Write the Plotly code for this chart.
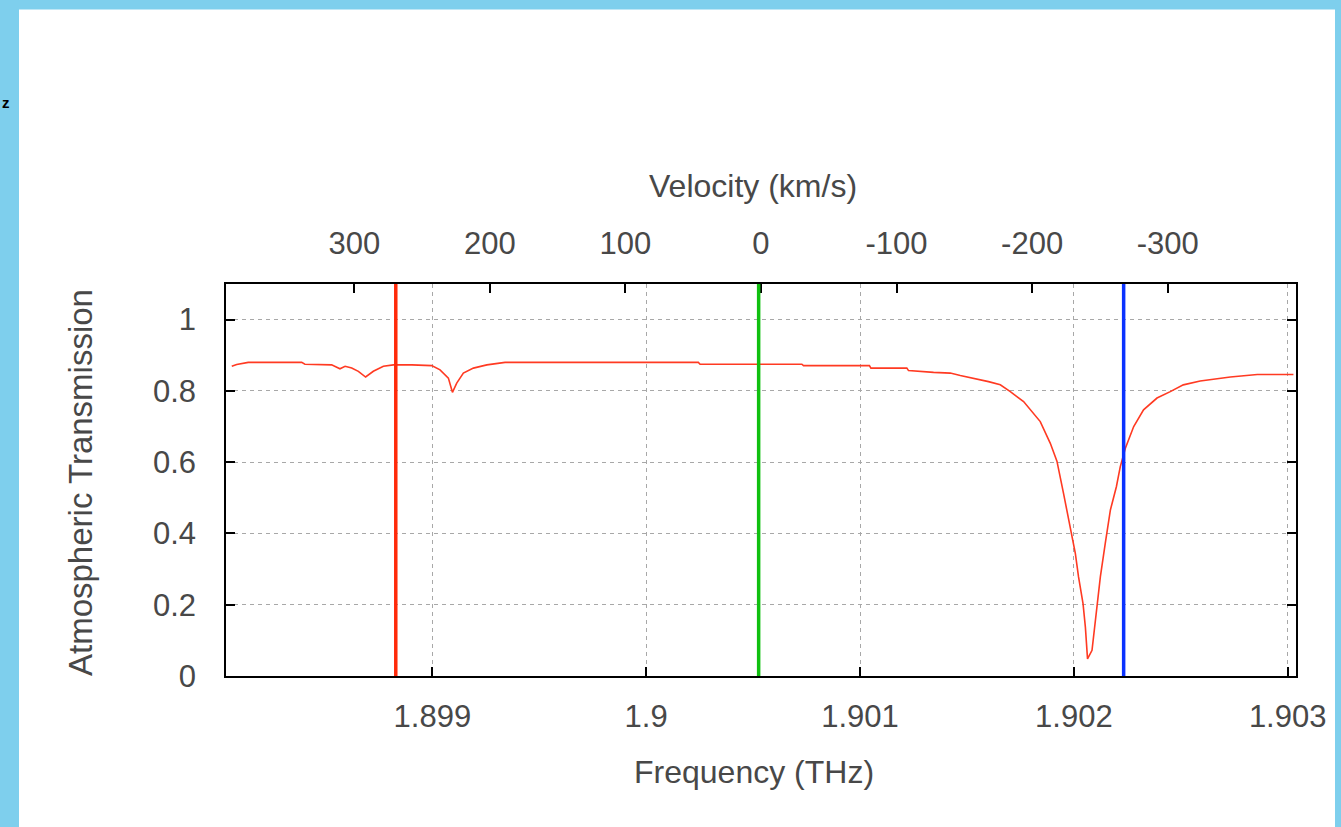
import plotly.graph_objects as go

# ---- data ----
freq_thz = [1.898062, 1.898085, 1.898139, 1.898389, 1.898404, 1.898529, 1.898568, 1.898592,
            1.898623, 1.898654, 1.898688, 1.898724, 1.898771, 1.898818, 1.898904, 1.898997,
            1.899036, 1.899075, 1.899094, 1.899114, 1.899145, 1.899192, 1.899255, 1.899301,
            1.899340, 1.900244, 1.900252, 1.900728, 1.900736, 1.901044, 1.901051, 1.901219,
            1.901227, 1.901344, 1.901422, 1.901469, 1.901531, 1.901601, 1.901656, 1.901703,
            1.901765, 1.901843, 1.901890, 1.901921, 1.901952, 1.901984, 1.902007, 1.902022,
            1.902043, 1.902054, 1.902064, 1.902085, 1.902105, 1.902124, 1.902147, 1.902171,
            1.902199, 1.902217, 1.902241, 1.902280, 1.902326, 1.902389, 1.902451, 1.902512,
            1.902591, 1.902732, 1.902858, 1.903027]
transmission = [0.869, 0.874, 0.880, 0.880, 0.875, 0.873, 0.862, 0.869,
                0.864, 0.855, 0.839, 0.855, 0.869, 0.873, 0.873, 0.871,
                0.859, 0.836, 0.796, 0.822, 0.850, 0.864, 0.873, 0.876,
                0.880, 0.880, 0.875, 0.875, 0.871, 0.871, 0.864, 0.864,
                0.857, 0.852, 0.850, 0.843, 0.836, 0.826, 0.817, 0.798,
                0.770, 0.714, 0.653, 0.603, 0.512, 0.419, 0.344, 0.278,
                0.203, 0.137, 0.048, 0.072, 0.175, 0.278, 0.372, 0.466,
                0.531, 0.587, 0.639, 0.700, 0.747, 0.780, 0.798, 0.817,
                0.828, 0.839, 0.846, 0.846]

marker_freqs = [1.898829, 1.900526, 1.902233]
marker_colors = ["#ff2a0a", "#10c010", "#0a32ff"]

freq_ticks = [1.899, 1.900, 1.901, 1.902, 1.903]
freq_ticktext = ["1.899", "1.9", "1.901", "1.902", "1.903"]
vel_ticks = [300, 200, 100, 0, -100, -200, -300]
vel_ticktext = ["300", "200", "100", "0", "-100", "-200", "-300"]
trans_ticks = [0, 0.2, 0.4, 0.6, 0.8, 1.0]
trans_ticktext = ["0", "0.2", "0.4", "0.6", "0.8", "1"]

freq_range = [1.898035, 1.903039]
trans_range = [0, 1.1]
C_KMS = 299792.458
F0 = 1.9005369  # rest frequency [CII]


def vel(f):
    return C_KMS * (1 - f / F0)


vel_range = [vel(freq_range[0]), vel(freq_range[1])]

# ---- figure ----
W, H = 1341, 827
L, R, T, B = 226, 1296, 284, 676
FONT = "Liberation Sans, Arial, sans-serif"
TXT = "#484848"

fig = go.Figure()

fig.add_trace(go.Scatter(x=freq_thz, y=transmission, mode="lines",
                         line=dict(color="#ff3a22", width=1.6),
                         showlegend=False, hoverinfo="skip"))

for fm, col in zip(marker_freqs, marker_colors):
    fig.add_shape(type="line", xref="x", yref="paper", x0=fm, x1=fm, y0=0, y1=1,
                  line=dict(color=col, width=3.5), layer="above")

# invisible trace on the top axis so it is drawn
fig.add_trace(go.Scatter(x=vel_range, y=[trans_range[0]] * 2, xaxis="x2", mode="markers",
                         marker=dict(opacity=0), showlegend=False, hoverinfo="skip"))

pw, ph = R - L, B - T


def px(xp):
    return (xp - L) / pw


def py(yp):
    return (B - yp) / ph


# white panel on blue background
fig.add_shape(type="rect", xref="paper", yref="paper",
              x0=px(19), x1=px(1335), y0=py(900), y1=py(9.5),
              fillcolor="white", line=dict(width=0), layer="below")

grid = dict(showgrid=True, gridcolor="#a8a8a8", gridwidth=1.3, griddash="4px,4px")
axline = dict(showline=True, linecolor="black", linewidth=1.5, ticks="inside",
              ticklen=9, tickwidth=1.5, tickcolor="black",
              tickfont=dict(family=FONT, size=31, color=TXT), zeroline=False)

fig.update_layout(
    width=W, height=H,
    margin=dict(l=L, r=W - R, t=T, b=H - B, pad=0),
    paper_bgcolor="#7ecfed", plot_bgcolor="white",
    xaxis=dict(range=freq_range, tickvals=freq_ticks, ticktext=freq_ticktext,
               mirror=True, ticklabelstandoff=12, **grid, **axline),
    xaxis2=dict(range=vel_range, overlaying="x", side="top", anchor="y",
                tickvals=vel_ticks, ticktext=vel_ticktext, showgrid=False,
                ticklabelstandoff=16, **axline),
    yaxis=dict(range=trans_range, tickvals=trans_ticks, ticktext=trans_ticktext,
               mirror="ticks", ticklabelstandoff=22, **grid, **axline),
    annotations=[
        dict(text="Frequency (THz)", xref="paper", yref="paper", x=px(754), y=py(772),
             xanchor="center", yanchor="middle", showarrow=False,
             font=dict(family=FONT, size=32, color=TXT)),
        dict(text="Velocity (km/s)", xref="paper", yref="paper", x=px(753), y=py(186),
             xanchor="center", yanchor="middle", showarrow=False,
             font=dict(family=FONT, size=32, color=TXT)),
        dict(text="Atmospheric Transmission", xref="paper", yref="paper", x=px(80), y=py(483),
             xanchor="center", yanchor="middle", textangle=-90, showarrow=False,
             font=dict(family=FONT, size=33, color=TXT)),
        dict(text="<b>z</b>", xref="paper", yref="paper", x=px(0), y=py(103),
             xanchor="left", yanchor="middle", showarrow=False,
             font=dict(family=FONT, size=15, color="black")),
    ],
)

fig.write_html("out.html", config={"displayModeBar": False},
               post_script="document.body.style.margin='0px';")
